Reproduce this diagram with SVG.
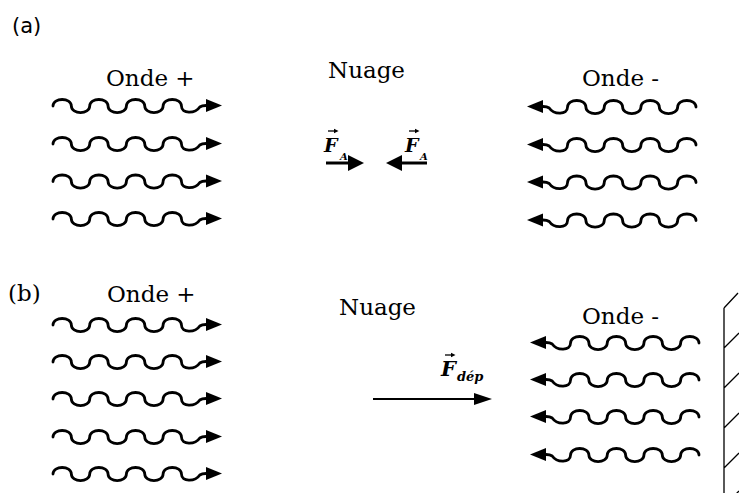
<svg xmlns="http://www.w3.org/2000/svg" xmlns:xlink="http://www.w3.org/1999/xlink" width="739" height="493" viewBox="0 0 739 493">
<style>
.lbl{font-family:"DejaVu Serif","Liberation Serif",serif;font-size:23px;fill:#000}
.vec{font-family:"DejaVu Serif","Liberation Serif",serif;font-style:italic;font-weight:bold;fill:#000}
.wave{fill:none;stroke:#000;stroke-width:2.8;stroke-linecap:round;stroke-linejoin:round}
.line{fill:none;stroke:#000}
</style>
<defs>
<g id="wr">
<path class="wave" d="M0 0 C0 -8.7 18.35 -8.7 18.35 0 C18.35 8.7 36.7 8.7 36.7 0 C36.7 -8.7 55.05 -8.7 55.05 0 C55.05 8.7 73.4 8.7 73.4 0 C73.4 -8.7 91.75 -8.7 91.75 0 C91.75 8.7 110.1 8.7 110.1 0 C110.1 -8.7 128.45 -8.7 128.45 0 C128.45 8 142 8 146.8 1 Q149 -0.5 153 -0.5 L156 -0.5"/>
<polygon points="153,-7 169,-0.5 153,6" fill="#000"/>
</g>
</defs>
<rect width="739" height="493" fill="#fff"/>

<g id="panel-a-label"><text x="12" y="33" font-family="DejaVu Sans, Liberation Sans, sans-serif" font-size="21">(a)</text></g>

<g id="onde-plus-a">
<text class="lbl" x="106" y="86">Onde +</text>
<use xlink:href="#wr" x="53" y="106"/>
<use xlink:href="#wr" x="53" y="144"/>
<use xlink:href="#wr" x="53" y="181.5"/>
<use xlink:href="#wr" x="53" y="219"/>
</g>

<g id="nuage-a">
<text class="lbl" x="328" y="78">Nuage</text>
</g>

<g id="onde-minus-a">
<text class="lbl" x="582" y="86">Onde -</text>
<use xlink:href="#wr" transform="translate(696,107) scale(-1,1)"/>
<use xlink:href="#wr" transform="translate(696,145) scale(-1,1)"/>
<use xlink:href="#wr" transform="translate(696,182.5) scale(-1,1)"/>
<use xlink:href="#wr" transform="translate(696,220.5) scale(-1,1)"/>
</g>

<g id="force-a-left">
<text class="vec" x="324" y="152" font-size="19">F</text>
<path class="line" stroke-width="1.3" d="M328 131 H335"/>
<polygon points="334,128.8 338.5,131 334,133.2" fill="#000"/>
<text class="vec" x="340" y="160" font-size="10">A</text>
</g>
<g id="force-a-right">
<text class="vec" x="405" y="152" font-size="19">F</text>
<path class="line" stroke-width="1.3" d="M409 131 H416"/>
<polygon points="415,128.8 419.5,131 415,133.2" fill="#000"/>
<text class="vec" x="420" y="160" font-size="10">A</text>
</g>

<g id="panel-b-label"><text x="8" y="301" font-family="DejaVu Serif, Liberation Serif, serif" font-size="23">(b)</text></g>

<g id="onde-plus-b">
<text class="lbl" x="107" y="302">Onde +</text>
<use xlink:href="#wr" x="53" y="325"/>
<use xlink:href="#wr" x="53" y="362"/>
<use xlink:href="#wr" x="53" y="399"/>
<use xlink:href="#wr" x="53" y="437"/>
<use xlink:href="#wr" x="53" y="474"/>
</g>

<g id="nuage-b">
<text class="lbl" x="339" y="315">Nuage</text>
</g>

<g id="force-b">
<text class="vec" x="441" y="376" font-size="21">F</text>
<path class="line" stroke-width="1.3" d="M445 355 H452"/>
<polygon points="451,352.8 455.5,355 451,357.2" fill="#000"/>
<text class="vec" x="457" y="381" font-size="13">dép</text>
</g>

<g id="onde-minus-b">
<text class="lbl" x="582" y="324">Onde -</text>
<use xlink:href="#wr" transform="translate(699,343) scale(-1,1)"/>
<use xlink:href="#wr" transform="translate(699,380) scale(-1,1)"/>
<use xlink:href="#wr" transform="translate(699,417) scale(-1,1)"/>
<use xlink:href="#wr" transform="translate(699,455) scale(-1,1)"/>
</g>

<g id="wall">
<path class="line" stroke-width="1.3" d="M724 308 V493 M724 308 L738 293 M724 348 L739 333 M724 388 L739 373 M724 428 L739 413 M724 468 L739 453 M724 506 L739 491"/>
</g>

<g id="connectors">
<path class="line" stroke-width="3" d="M326 163 H350"/>
<polygon points="348,155 364,163 348,171" fill="#000"/>
<path class="line" stroke-width="3" d="M400 163 H427"/>
<polygon points="402,155 386,163 402,171" fill="#000"/>
<path class="line" stroke-width="2" d="M373 399 H478"/>
<polygon points="474,393 492,399 474,405" fill="#000"/>
</g>
</svg>
